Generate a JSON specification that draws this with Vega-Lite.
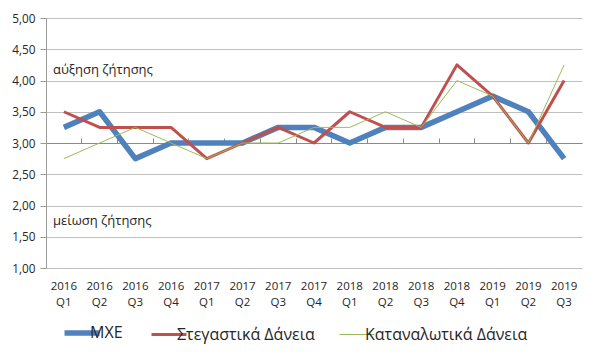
{
  "$schema": "https://vega.github.io/schema/vega-lite/v6.json",
  "width": 536,
  "height": 250,
  "autosize": {"type": "none"},
  "padding": {"left": 46, "top": 18, "right": 19, "bottom": 93},
  "background": "white",
  "config": {
    "font": "Open Sans",
    "view": {"stroke": null},
    "axis": {"labelFont": "Open Sans", "labelColor": "#262626"},
    "legend": {"labelFont": "Open Sans"}
  },
  "datasets": {
    "series": [
      {"q": "2016 Q1", "s": "ΜΧΕ", "v": 3.25},
      {"q": "2016 Q2", "s": "ΜΧΕ", "v": 3.5},
      {"q": "2016 Q3", "s": "ΜΧΕ", "v": 2.75},
      {"q": "2016 Q4", "s": "ΜΧΕ", "v": 3.0},
      {"q": "2017 Q1", "s": "ΜΧΕ", "v": 3.0},
      {"q": "2017 Q2", "s": "ΜΧΕ", "v": 3.0},
      {"q": "2017 Q3", "s": "ΜΧΕ", "v": 3.25},
      {"q": "2017 Q4", "s": "ΜΧΕ", "v": 3.25},
      {"q": "2018 Q1", "s": "ΜΧΕ", "v": 3.0},
      {"q": "2018 Q2", "s": "ΜΧΕ", "v": 3.25},
      {"q": "2018 Q3", "s": "ΜΧΕ", "v": 3.25},
      {"q": "2018 Q4", "s": "ΜΧΕ", "v": 3.5},
      {"q": "2019 Q1", "s": "ΜΧΕ", "v": 3.75},
      {"q": "2019 Q2", "s": "ΜΧΕ", "v": 3.5},
      {"q": "2019 Q3", "s": "ΜΧΕ", "v": 2.75},
      {"q": "2016 Q1", "s": "Στεγαστικά Δάνεια", "v": 3.5},
      {"q": "2016 Q2", "s": "Στεγαστικά Δάνεια", "v": 3.25},
      {"q": "2016 Q3", "s": "Στεγαστικά Δάνεια", "v": 3.25},
      {"q": "2016 Q4", "s": "Στεγαστικά Δάνεια", "v": 3.25},
      {"q": "2017 Q1", "s": "Στεγαστικά Δάνεια", "v": 2.75},
      {"q": "2017 Q2", "s": "Στεγαστικά Δάνεια", "v": 3.0},
      {"q": "2017 Q3", "s": "Στεγαστικά Δάνεια", "v": 3.25},
      {"q": "2017 Q4", "s": "Στεγαστικά Δάνεια", "v": 3.0},
      {"q": "2018 Q1", "s": "Στεγαστικά Δάνεια", "v": 3.5},
      {"q": "2018 Q2", "s": "Στεγαστικά Δάνεια", "v": 3.25},
      {"q": "2018 Q3", "s": "Στεγαστικά Δάνεια", "v": 3.25},
      {"q": "2018 Q4", "s": "Στεγαστικά Δάνεια", "v": 4.25},
      {"q": "2019 Q1", "s": "Στεγαστικά Δάνεια", "v": 3.75},
      {"q": "2019 Q2", "s": "Στεγαστικά Δάνεια", "v": 3.0},
      {"q": "2019 Q3", "s": "Στεγαστικά Δάνεια", "v": 4.0},
      {"q": "2016 Q1", "s": "Καταναλωτικά Δάνεια", "v": 2.75},
      {"q": "2016 Q2", "s": "Καταναλωτικά Δάνεια", "v": 3.0},
      {"q": "2016 Q3", "s": "Καταναλωτικά Δάνεια", "v": 3.25},
      {"q": "2016 Q4", "s": "Καταναλωτικά Δάνεια", "v": 3.0},
      {"q": "2017 Q1", "s": "Καταναλωτικά Δάνεια", "v": 2.75},
      {"q": "2017 Q2", "s": "Καταναλωτικά Δάνεια", "v": 3.0},
      {"q": "2017 Q3", "s": "Καταναλωτικά Δάνεια", "v": 3.0},
      {"q": "2017 Q4", "s": "Καταναλωτικά Δάνεια", "v": 3.25},
      {"q": "2018 Q1", "s": "Καταναλωτικά Δάνεια", "v": 3.25},
      {"q": "2018 Q2", "s": "Καταναλωτικά Δάνεια", "v": 3.5},
      {"q": "2018 Q3", "s": "Καταναλωτικά Δάνεια", "v": 3.25},
      {"q": "2018 Q4", "s": "Καταναλωτικά Δάνεια", "v": 4.0},
      {"q": "2019 Q1", "s": "Καταναλωτικά Δάνεια", "v": 3.75},
      {"q": "2019 Q2", "s": "Καταναλωτικά Δάνεια", "v": 3.0},
      {"q": "2019 Q3", "s": "Καταναλωτικά Δάνεια", "v": 4.25}
    ],
    "notes": [
      {"q": "2016 Q1", "v": 4.17, "t": "αύξηση ζήτησης"},
      {"q": "2016 Q1", "v": 1.75, "t": "μείωση ζήτησης"}
    ]
  },
  "resolve": {"axis": {"x": "independent"}},
  "encoding": {
    "y": {
      "field": "v", "type": "quantitative",
      "scale": {"domain": [1, 5], "nice": false, "zero": false},
      "axis": {"title": null, "values": [1, 1.5, 2, 2.5, 3, 3.5, 4, 4.5, 5],
        "labelExpr": "replace(format(datum.value, '.2f'), '.', ',')",
        "grid": true, "gridColor": "#c0c0c0", "domainColor": "#9a9a9a",
        "tickColor": "#9a9a9a", "tickSize": 6, "labelPadding": 5, "labelFontSize": 11.8}
    }
  },
  "layer": [
    {
      "data": {"name": "series"},
      "transform": [{"filter": "datum.s === 'ΜΧΕ'"}],
      "mark": {"type": "line", "strokeJoin": "round", "strokeWidth": 5.5},
      "encoding": {
        "x": {
          "field": "q", "type": "ordinal", "sort": null,
          "scale": {"type": "band", "paddingInner": 0, "paddingOuter": 0,
            "domain": ["2016 Q1","2016 Q2","2016 Q3","2016 Q4","2017 Q1","2017 Q2","2017 Q3","2017 Q4","2018 Q1","2018 Q2","2018 Q3","2018 Q4","2019 Q1","2019 Q2","2019 Q3"]},
          "axis": {"title": null, "domain": false, "ticks": false, "labelAngle": 0,
            "labelExpr": "split(datum.label, ' ')", "labelFontSize": 11.5, "labelLineHeight": 16,
            "labelPadding": 12, "labelBaseline": "top"}
        },
        "color": {
          "field": "s", "type": "nominal",
          "scale": {"domain": ["ΜΧΕ", "Στεγαστικά Δάνεια", "Καταναλωτικά Δάνεια"], "range": ["#4f81bd", "#c0504d", "#9bbb59"]},
          "legend": {"title": null, "orient": "none", "legendX": 28, "legendY": 307, "direction": "horizontal", "symbolType": "stroke",
            "symbolSize": 1225, "labelFontSize": 16, "labelLimit": 400, "labelColor": "#262626", "columnPadding": 22, "labelOffset": 0,
            "symbolStrokeWidth": {"expr": "datum.value === 'ΜΧΕ' ? 5.5 : datum.value === 'Στεγαστικά Δάνεια' ? 3 : 1"}}
        }
      }
    },
    {
      "data": {"name": "series"},
      "transform": [{"filter": "datum.s === 'Στεγαστικά Δάνεια'"}],
      "mark": {"type": "line", "strokeJoin": "round", "strokeWidth": 3},
      "encoding": {
        "x": {"field": "q", "type": "ordinal", "sort": null, "axis": null},
        "color": {"field": "s", "type": "nominal"}
      }
    },
    {
      "data": {"name": "series"},
      "transform": [{"filter": "datum.s === 'Καταναλωτικά Δάνεια'"}],
      "mark": {"type": "line", "strokeJoin": "round", "strokeWidth": 1},
      "encoding": {
        "x": {"field": "q", "type": "ordinal", "sort": null,
          "axis": {"title": null, "labels": false, "grid": false, "domain": true, "ticks": true,
            "bandPosition": 0, "offset": -125, "domainColor": "#8a8a8a", "tickColor": "#8a8a8a", "tickSize": 5}},
        "color": {"field": "s", "type": "nominal"}
      }
    },
    {
      "data": {"name": "notes"},
      "mark": {"type": "text", "align": "left", "baseline": "middle", "dx": 7, "fontSize": 13, "color": "#262626", "font": "Open Sans"},
      "encoding": {
        "x": {"field": "q", "type": "ordinal", "sort": null, "bandPosition": 0, "axis": null},
        "text": {"field": "t"}
      }
    }
  ]
}
